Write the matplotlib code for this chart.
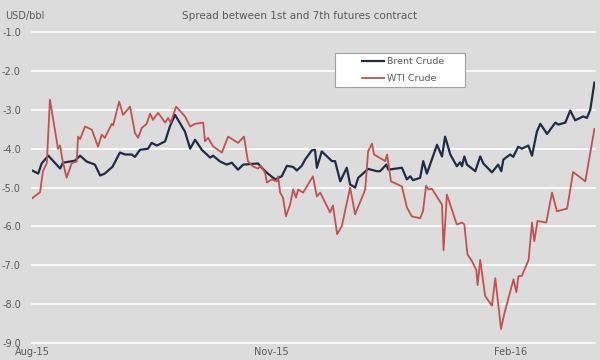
import matplotlib
matplotlib.use("Agg")
import matplotlib.pyplot as plt
from matplotlib.patches import Rectangle
import numpy as np
import pandas as pd

# days since 1 Aug 2015, spread in USD/bbl
brent_day = [0, 2.4, 3.7, 6.3, 10.8, 11.9, 16.5, 18.5, 21, 24.2, 26.2, 28, 31, 33.8, 35.8,
             38.3, 39.6, 41.5, 44.6, 46, 48, 51.2, 53, 55, 58.8, 60.8, 62.7, 65.3, 68.5,
             69.6, 72.3, 74.9, 76.8, 79.2, 81.2, 86.9, 88.3, 90.3, 93.5, 96, 98, 100.4,
             101.8, 103.7, 105, 107.6, 108.8, 109.5, 111.4, 115.3, 116.5, 118.5, 121,
             122.3, 124.2, 125.4, 129.2, 132.6, 133.8, 136.2, 137, 142.2, 144.1, 145.4,
             146.5, 149.2, 150.4, 151.8, 153.7, 155.7, 157.6, 158.8, 160.8, 163.3, 164.6,
             165.3, 166.2, 167.2, 170.4, 172.3, 173.5, 176.8, 179.2, 180.4, 181.2, 183.8,
             185, 186.9, 188.3, 190.8, 192.2, 194.1, 195.4, 198, 201.2, 202.3, 205, 206.9,
             208.8, 211.9, 213.3, 214.6, 216.2]
brent_val = [-4.56, -4.64, -4.38, -4.18, -4.51, -4.36, -4.31, -4.18, -4.33, -4.41, -4.69,
             -4.64, -4.46, -4.10, -4.15, -4.15, -4.21, -4.03, -4.00, -3.85, -3.92, -3.81,
             -3.43, -3.13, -3.56, -4.00, -3.77, -4.03, -4.23, -4.18, -4.33, -4.41, -4.36,
             -4.54, -4.41, -4.38, -4.49, -4.62, -4.79, -4.71, -4.44, -4.47, -4.56, -4.44,
             -4.28, -4.04, -4.03, -4.49, -4.07, -4.32, -4.32, -4.84, -4.49, -4.92, -5.00,
             -4.75, -4.52, -4.58, -4.58, -4.41, -4.54, -4.49, -4.79, -4.71, -4.81, -4.75,
             -4.32, -4.64, -4.28, -3.90, -4.20, -3.69, -4.15, -4.45, -4.35, -4.45, -4.20,
             -4.41, -4.58, -4.20, -4.38, -4.61, -4.41, -4.58, -4.28, -4.15, -4.21, -3.95,
             -4.00, -3.92, -4.18, -3.56, -3.36, -3.62, -3.33, -3.38, -3.33, -3.02, -3.27,
             -3.17, -3.21, -3.00, -2.30]

wti_day = [0, 3.1, 4.2, 5.7, 6.9, 10, 10.8, 11.6, 13.3, 15.3, 17.2, 17.7, 18.5, 20.4, 23,
           25.4, 26.8, 28, 30.7, 31.2, 33.5, 35, 37.7, 39.6, 40.8, 42.2, 44.1, 45.4, 46.5,
           48.5, 51.2, 52.3, 53.3, 55.4, 57.6, 58.8, 60.8, 62.7, 65.8, 66.5, 67.7, 69.6, 73,
           75.4, 79.2, 81.5, 83, 85, 86.9, 88, 89.6, 90.3, 92.2, 94.1, 94.6, 95.4, 96.5,
           97.6, 99.2, 100.4, 101.5, 102.3, 104.2, 108, 109.5, 110.8, 114.6, 115.7, 117.3,
           119.1, 122.3, 124.2, 128.1, 129.2, 130.7, 131.5, 135.8, 136.5, 138, 142.2, 144.1,
           146, 149.2, 150.3, 151.5, 152.4, 153.7, 157.6, 158.2, 159.5, 163.3, 165.3, 166.2,
           167.4, 169.1, 170.8, 171.3, 172.3, 174.2, 176.8, 178.1, 180.3, 181.5, 185.1,
           186.2, 187, 188.3, 190.9, 192.2, 193.1, 194.3, 197.7, 199.9, 201.8, 205.7, 208,
           212.7, 216.2]
wti_val = [-5.28, -5.12, -4.58, -4.37, -2.74, -4.00, -3.92, -4.25, -4.75, -4.37, -4.33,
           -3.69, -3.75, -3.43, -3.51, -3.95, -3.64, -3.72, -3.36, -3.40, -2.79, -3.13,
           -2.92, -3.60, -3.72, -3.47, -3.36, -3.10, -3.26, -3.08, -3.33, -3.21, -3.33,
           -2.92, -3.08, -3.17, -3.43, -3.36, -3.33, -3.81, -3.72, -3.94, -4.10, -3.69,
           -3.85, -3.69, -4.32, -4.46, -4.51, -4.44, -4.62, -4.87, -4.79, -4.84, -4.71,
           -5.13, -5.26, -5.74, -5.44, -5.05, -5.26, -5.05, -5.13, -4.71, -5.23, -5.13,
           -5.64, -5.46, -6.20, -5.99, -5.00, -5.69, -5.05, -4.07, -3.87, -4.15, -4.32,
           -4.15, -4.84, -4.97, -5.51, -5.74, -5.79, -5.61, -4.95, -5.05, -5.03, -5.44,
           -6.61, -5.18, -5.95, -5.90, -5.95, -6.72, -6.89, -7.12, -7.51, -6.86, -7.79,
           -8.04, -7.33, -8.64, -8.26, -7.36, -7.69, -7.28, -7.27, -6.86, -5.90, -6.38,
           -5.86, -5.90, -5.13, -5.61, -5.54, -4.60, -4.84, -3.49]

tick_dates = ["2015-08-01", "2015-11-01", "2016-02-01"]
tick_labels = ["Aug-15", "Nov-15", "Feb-16"]
y_ticks = [-1.0, -2.0, -3.0, -4.0, -5.0, -6.0, -7.0, -8.0, -9.0]

start = pd.Timestamp("2015-08-01")
tick_pos = [(pd.Timestamp(d) - start).days for d in tick_dates]

bg = "#dcdcdc"
txt = "#5a5a5a"
plt.rcParams["font.family"] = "DejaVu Sans"

fig = plt.figure(figsize=(6, 3.6), dpi=100, facecolor=bg)
ax = fig.add_axes([0.0533, 0.047, 0.9387, 0.864], facecolor=bg)

ax.plot(brent_day, brent_val, color="#1f2b47", lw=1.6, label="Brent Crude", zorder=3)
ax.plot(wti_day, wti_val, color="#c4504f", lw=1.3, label="WTI Crude", zorder=3)

ax.set_xlim(0, 216.5)
ax.set_ylim(-9.0, -1.0)
ax.set_yticks(y_ticks)
ax.set_yticklabels(["%.1f" % v for v in y_ticks])
ax.set_xticks(tick_pos)
ax.set_xticklabels(tick_labels)
ax.tick_params(length=0, labelsize=7, colors=txt, pad=3)
ax.tick_params(axis="y", pad=8)
ax.grid(axis="y", color="white", lw=1.2)
ax.grid(axis="x", visible=False)
for gl in ax.get_ygridlines():
    gl.set_clip_on(False)
for s in ax.spines.values():
    s.set_visible(False)

fig.text(0.008, 0.955, "USD/bbl", fontsize=7, color=txt, va="center", ha="left")
fig.text(0.5, 0.955, "Spread between 1st and 7th futures contract", fontsize=7.5,
         color=txt, va="center", ha="center")

# legend box drawn separately so it can be wider than its entries
ax.add_patch(Rectangle((335 / 600, 1 - 87 / 360), 130 / 600, 34 / 360,
                       transform=fig.transFigure, facecolor="white",
                       edgecolor="#a0a0a0", lw=0.8, zorder=4, clip_on=False))
leg = ax.legend(loc="upper left", bbox_to_anchor=(362 / 600, 1 - 57 / 360),
                bbox_transform=fig.transFigure, frameon=False, fontsize=6.8,
                handlelength=2.3, handletextpad=0.3, borderpad=0, labelspacing=0.85,
                borderaxespad=0)
leg.set_zorder(5)
for t in leg.get_texts():
    t.set_color(txt)

fig.savefig("out.png", dpi=100, facecolor=bg)
